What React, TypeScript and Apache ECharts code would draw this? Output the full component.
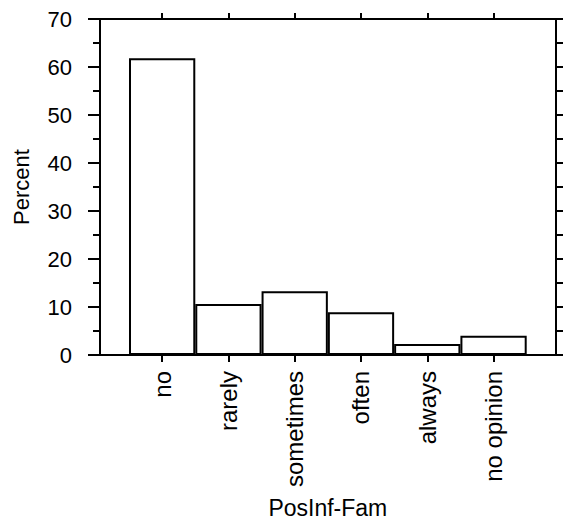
import React, { useEffect, useRef } from "react";
import * as echarts from "echarts";

const categories = ["no", "rarely", "sometimes", "often", "always", "no opinion"];
const percents = [61.8, 10.6, 13.3, 8.9, 2.3, 4.0];
const yMin = 0;
const yMax = 70;
const yInterval = 10;
const xTitle = "PosInf-Fam";
const yTitle = "Percent";

const FONT = "Liberation Sans, Arial, sans-serif";
const BLACK = "#000";

export default function App() {
  const ref = useRef<HTMLDivElement>(null);
  useEffect(() => {
    if (!ref.current) return;
    const chart = echarts.init(ref.current, null, { renderer: "svg" });
    const lineStyle = { color: BLACK, width: 2 };
    chart.setOption({
      animation: false,
      backgroundColor: "#fff",
      textStyle: { fontFamily: FONT, color: BLACK },
      grid: [
        { left: 100, right: 7, top: 19, bottom: 167, containLabel: false, outerBoundsMode: "none" },
        { left: 129, right: 36.3, top: 19, bottom: 167, containLabel: false, outerBoundsMode: "none" },
      ],
      xAxis: [
        {
          type: "value", gridIndex: 0, position: "bottom", min: 0, max: 1,
          axisLine: { show: true, onZero: false, lineStyle }, axisTick: { show: false },
          axisLabel: { show: false }, splitLine: { show: false },
        },
        {
          type: "value", gridIndex: 0, position: "top", min: 0, max: 1,
          axisLine: { show: true, onZero: false, lineStyle }, axisTick: { show: false },
          axisLabel: { show: false }, splitLine: { show: false },
        },
        {
          type: "category", gridIndex: 1, position: "bottom", data: categories,
          axisLine: { show: false, onZero: false },
          axisTick: { show: true, alignWithLabel: true, interval: 0, length: 7, lineStyle },
          axisLabel: { rotate: 90, interval: 0, fontSize: 24, margin: 16, color: BLACK, fontFamily: FONT },
          name: xTitle, nameLocation: "middle", nameGap: 141,
          nameTextStyle: { fontSize: 23, color: BLACK, fontFamily: FONT },
        },
        {
          type: "category", gridIndex: 1, position: "top", data: categories,
          axisLine: { show: false, onZero: false },
          axisTick: { show: true, alignWithLabel: true, interval: 0, length: 6, lineStyle },
          axisLabel: { show: false, interval: 0 },
        },
      ],
      yAxis: [
        {
          type: "value", gridIndex: 0, position: "left", min: yMin, max: yMax, interval: yInterval,
          axisLine: { show: true, onZero: false, lineStyle },
          axisTick: { show: true, length: 12, lineStyle },
          minorTick: { show: true, splitNumber: 2, length: 7, lineStyle },
          splitLine: { show: false },
          axisLabel: { fontSize: 22, margin: 28, color: BLACK, fontFamily: FONT },
          name: yTitle, nameLocation: "middle", nameGap: 68,
          nameTextStyle: { fontSize: 22, color: BLACK, fontFamily: FONT },
        },
        {
          type: "value", gridIndex: 0, position: "right", min: yMin, max: yMax, interval: 5,
          axisLine: { show: true, onZero: false, lineStyle },
          axisTick: { show: true, length: 7, lineStyle },
          splitLine: { show: false }, axisLabel: { show: false },
        },
        {
          type: "value", gridIndex: 1, min: yMin, max: yMax, show: false,
        },
      ],
      series: [
        {
          type: "bar", xAxisIndex: 2, yAxisIndex: 2, data: percents,
          barCategoryGap: 0, barWidth: "100%",
          itemStyle: { color: "#fff", borderColor: BLACK, borderWidth: 2 },
          silent: true,
        },
      ],
    });
    return () => chart.dispose();
  }, []);
  return <div ref={ref} style={{ position: "fixed", left: 0, top: 0, width: 563, height: 522 }} />;
}
